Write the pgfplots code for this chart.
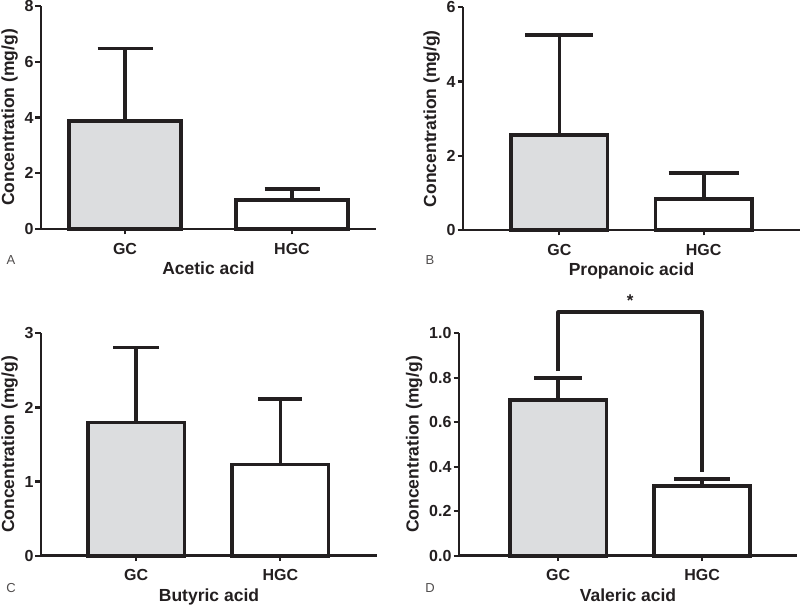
\documentclass[border=0pt]{standalone}
\usepackage{pgfplots}
\pgfplotsset{compat=1.18}
\usepackage{fontspec}
\setmainfont{Liberation Sans}
\definecolor{ink}{HTML}{231F20}
\definecolor{barfill}{HTML}{DCDDDF}
\pgfplotsset{
  panel/.style={
    scale only axis,
    axis lines=left,
    axis line style={line width=2.4bp, color=ink, -},
    x axis line style={-}, y axis line style={-},
    every tick/.style={line width=2.2bp, color=ink},
    tick align=outside,
    major tick length=5.5bp,
    xtick={0,1},
    xticklabels={GC,HGC},
    ymin=0,
    clip=false,
    /pgf/number format/assume math mode=true,
    ticklabel style={font=\bfseries\fontsize{16bp}{16bp}\selectfont, text=ink},
    yticklabel style={xshift=1.5bp},
    xticklabel style={yshift=-5bp},
    label style={font=\bfseries\fontsize{17.5bp}{17.5bp}\selectfont, text=ink},
    xlabel style={yshift=-1bp},
    ylabel style={yshift=0bp},
    ylabel={Concentration (mg/g)},
  },
  gcbar/.style={ybar, bar shift=0pt, bar width=0.67, fill=barfill, draw=ink, line width=3.6bp,
    error bars/.cd, y dir=plus, y explicit, error mark=|,
    error bar style={line width=3.6bp, color=ink},
    error mark options={line width=3.6bp, color=ink, mark size=#1}},
  hgcbar/.style={ybar, bar shift=0pt, bar width=0.67, fill=white, draw=ink, line width=3.6bp,
    error bars/.cd, y dir=plus, y explicit, error mark=|,
    error bar style={line width=3.6bp, color=ink},
    error mark options={line width=3.6bp, color=ink, mark size=#1}},
}
\begin{document}
\begin{tikzpicture}
\useasboundingbox (0bp,0bp) rectangle (800bp,607bp);
% Panel A
\begin{axis}[panel, at={(41bp,378bp)}, anchor=south west, width=335bp, height=223bp,
  xmin=-0.503, xmax=1.503, ymax=8, ytick={0,2,4,6,8},
  xlabel={Acetic acid}]
\addplot[gcbar=27.5bp] coordinates {(0,3.87) +- (0,2.61)};
\addplot[hgcbar=27.5bp] coordinates {(1,1.04) +- (0,0.39)};
\end{axis}
% Panel B
\begin{axis}[panel, at={(463bp,377bp)}, anchor=south west, width=337bp, height=222.7bp,
  xmin=-0.667, xmax=1.667, ymax=6, ytick={0,2,4,6},
  xlabel={Propanoic acid}]
\addplot[gcbar=34bp] coordinates {(0,2.56) +- (0,2.69)};
\addplot[hgcbar=35bp] coordinates {(1,0.84) +- (0,0.69)};
\end{axis}
% Panel C
\begin{axis}[panel, at={(41bp,51.3bp)}, anchor=south west, width=336bp, height=222.4bp,
  xmin=-0.66, xmax=1.67, ymax=3, ytick={0,1,2,3},
  xlabel={Butyric acid}]
\addplot[gcbar=23bp] coordinates {(0,1.795) +- (0,1.015)};
\addplot[hgcbar=22bp] coordinates {(1,1.23) +- (0,0.88)};
\end{axis}
% Panel D
\begin{axis}[panel, at={(459bp,51.3bp)}, anchor=south west, width=338bp, height=222.4bp,
  xmin=-0.69, xmax=1.66, ymax=1.0, ytick={0,0.2,0.4,0.6,0.8,1.0},
  yticklabel style={/pgf/number format/.cd, fixed, fixed zerofill, precision=1},
  xlabel={Valeric acid}]
\addplot[gcbar=24bp] coordinates {(0,0.70) +- (0,0.10)};
\addplot[hgcbar=28bp] coordinates {(1,0.313) +- (0,0.032)};
\addplot[ink, line width=3.6bp, line join=round, mark=none] coordinates {(0,0.83) (0,1.095) (1,1.095) (1,0.378)};
\node[font=\bfseries\fontsize{17bp}{17bp}\selectfont, text=ink] at (axis cs:0.5,1.145) {*};
\end{axis}
% panel letters
\node[font=\fontsize{13bp}{13bp}\selectfont, text=ink!80] at (11bp,347bp) {A};
\node[font=\fontsize{13bp}{13bp}\selectfont, text=ink!80] at (430bp,347bp) {B};
\node[font=\fontsize{13bp}{13bp}\selectfont, text=ink!80] at (11bp,19bp) {C};
\node[font=\fontsize{13bp}{13bp}\selectfont, text=ink!80] at (430bp,19bp) {D};
\end{tikzpicture}
\end{document}
